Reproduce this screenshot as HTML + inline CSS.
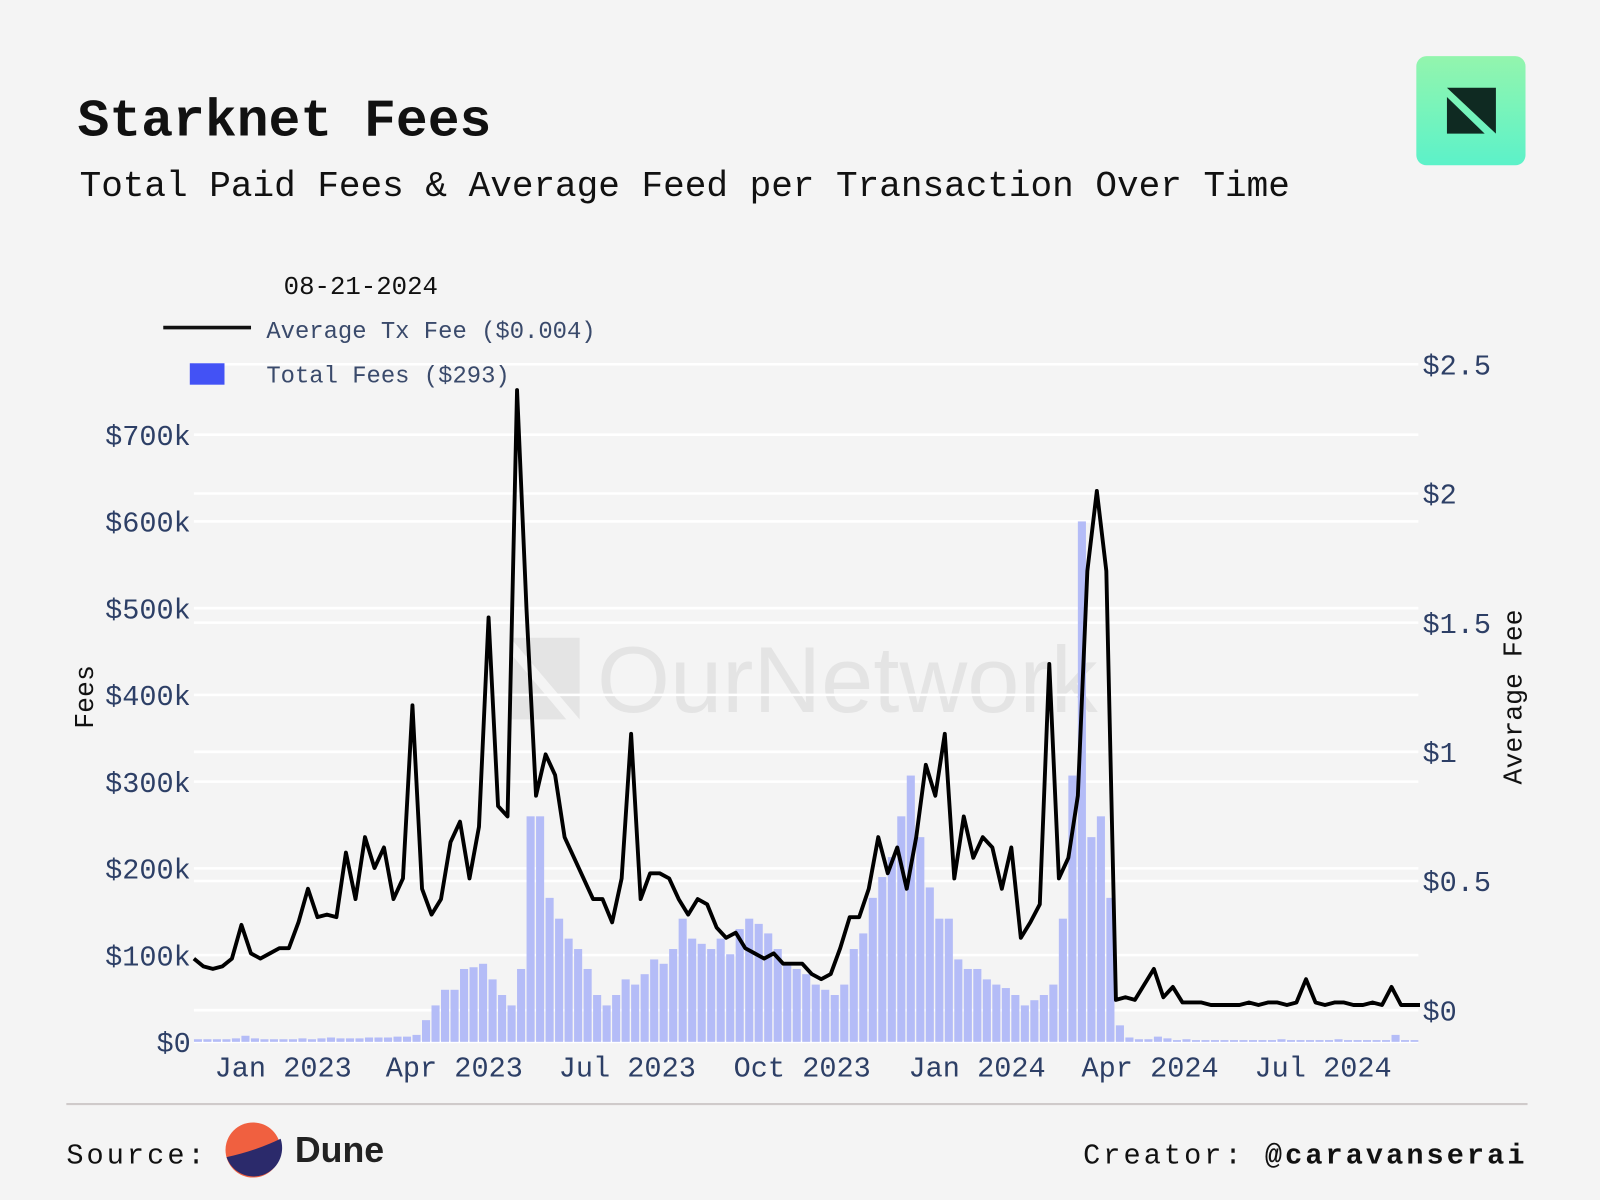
<!DOCTYPE html>
<html><head><meta charset="utf-8"><style>
html,body{margin:0;padding:0;background:#f4f4f4;}
svg{display:block;}
text{font-family:"Liberation Mono","DejaVu Sans Mono",monospace;}
</style></head><body>
<svg id="chart" width="1600" height="1200" viewBox="0 0 1568 1176" xmlns="http://www.w3.org/2000/svg">
<rect x="0" y="0" width="1568" height="1176" fill="#f4f4f4"/>
<text x="76" y="133" font-size="52" font-weight="bold" fill="#111">Starknet Fees</text>
<text x="78" y="192" font-size="35.3" fill="#111">Total Paid Fees &amp; Average Feed per Transaction Over Time</text>
<defs><linearGradient id="lg" x1="0" y1="0" x2="0" y2="1"><stop offset="0" stop-color="#93f5ad"/><stop offset="1" stop-color="#5cf2c9"/></linearGradient>
<clipPath id="pc"><rect x="190" y="300" width="1200" height="730"/></clipPath></defs>
<g>
<rect x="1388" y="55" width="107" height="107" rx="10" fill="url(#lg)"/>
<polygon points="1418,86 1466,86 1466,131 1418,86" fill="#0f2a22"/>
<polygon points="1418,95 1418,131 1455,131" fill="#0f2a22"/>
</g>
<g opacity="0.55">
<polygon points="500,625 568,625 568,705" fill="#d8d8d8"/>
<polygon points="500,640 500,705 555,705" fill="#d8d8d8"/>
<text x="585" y="698" font-size="92" fill="#d8d8d8" style="font-family:'Liberation Sans',sans-serif">OurNetwork</text>
</g>
<g id="grid"></g>
<g id="bars" clip-path="url(#pc)"></g>
<g id="line"></g>
<g id="axes"></g>
<text x="278" y="288" font-size="25.2" fill="#111">08-21-2024</text>
<g>
<line x1="160" y1="321" x2="246" y2="321" stroke="#111" stroke-width="3.5"/>
<text x="261" y="331" font-size="23.4" fill="#3a4a6b">Average Tx Fee ($0.004)</text>
</g>
<g>
<rect x="186" y="356" width="34" height="21" fill="#4352f5"/>
<text x="261" y="375" font-size="23.4" fill="#3a4a6b">Total Fees ($293)</text>
</g>
<text transform="translate(91,683) rotate(-90)" text-anchor="middle" font-size="26" fill="#111">Fees</text>
<text transform="translate(1491,683) rotate(-90)" text-anchor="middle" font-size="26" fill="#111">Average Fee</text>
<line x1="65" y1="1082" x2="1497" y2="1082" stroke="#cfcaca" stroke-width="2"/>
<text x="65" y="1140" font-size="28" letter-spacing="3" fill="#111">Source:</text>
<g>
<circle cx="248" cy="1127" r="27" fill="#f06040"/>
<path d="M222,1134 Q250,1128 275,1116 A27,27 0 0 1 222,1134 Z" fill="#2b2a6b"/>
<text x="289" y="1139" font-size="35" font-weight="bold" fill="#222" style="font-family:'Liberation Sans',sans-serif">Dune</text>
</g>
<text x="1497" y="1140" font-size="28" letter-spacing="3" text-anchor="end" fill="#111">Creator: <tspan font-weight="bold">@caravanserai</tspan></text>
</svg>
<script>
const startDate = "2022-11-15";
const stepDays = 5;
const avgFee = [0.20,0.17,0.16,0.17,0.20,0.33,0.22,0.20,0.22,0.24,0.24,0.34,0.47,0.36,0.37,0.36,0.61,0.43,0.67,0.55,0.63,0.43,0.51,1.18,0.47,0.37,0.43,0.65,0.73,0.51,0.71,1.52,0.79,0.75,2.4,1.55,0.83,0.99,0.91,0.67,0.59,0.51,0.43,0.43,0.34,0.51,1.07,0.43,0.53,0.53,0.51,0.43,0.37,0.43,0.41,0.32,0.28,0.30,0.24,0.22,0.20,0.22,0.18,0.18,0.18,0.14,0.12,0.14,0.24,0.36,0.36,0.47,0.67,0.53,0.63,0.47,0.67,0.95,0.83,1.07,0.51,0.75,0.59,0.67,0.63,0.47,0.63,0.28,0.34,0.41,1.34,0.51,0.59,0.83,1.70,2.01,1.70,0.04,0.05,0.04,0.10,0.16,0.05,0.09,0.03,0.03,0.03,0.02,0.02,0.02,0.02,0.03,0.02,0.03,0.03,0.02,0.03,0.12,0.03,0.02,0.03,0.03,0.02,0.02,0.03,0.02,0.09,0.02,0.02,0.02];
const totalFeesK = [3,3,3,3,4,7,4,3,3,3,3,4,3,4,5,4,4,4,5,5,5,6,6,8,25,42,60,60,84,86,90,72,54,42,84,260,260,166,142,119,107,84,54,42,54,72,66,78,95,90,107,142,119,113,107,119,101,130,142,136,125,107,90,84,78,66,60,54,66,107,125,166,190,213,260,307,236,178,142,142,95,84,84,72,66,62,54,42,48,54,66,142,307,600,236,260,166,19,5,3,3,6,4,2,3,2,2,2,2,2,2,2,2,2,3,2,2,2,2,2,3,2,2,2,2,2,8,2,2,2];
const leftTicks = [0,100,200,300,400,500,600,700];
const leftTickLabels = ["$0","$100k","$200k","$300k","$400k","$500k","$600k","$700k"];
const rightTicks = [0,0.5,1,1.5,2,2.5];
const rightTickLabels = ["$0","$0.5","$1","$1.5","$2","$2.5"];
const xTickDates = ["2023-01-01","2023-04-01","2023-07-01","2023-10-01","2024-01-01","2024-04-01","2024-07-01"];
const xTickLabels = ["Jan 2023","Apr 2023","Jul 2023","Oct 2023","Jan 2024","Apr 2024","Jul 2024"];

const NS = "http://www.w3.org/2000/svg";
const DAY = 86400000;
const t0 = Date.parse(startDate);
const xL = 190, xR = 1390;
function xScale(dateMs){ return xL + (dateMs - t0)/DAY * 1.863; }
function yLeft(k){ return 1021 - k*0.85; }
function yRight(v){ return 990 - v*253.2; }
function mk(tag, attrs, parent){ const e=document.createElementNS(NS,tag); for(const k in attrs) e.setAttribute(k,attrs[k]); parent.appendChild(e); return e; }

const grid=document.getElementById('grid'), axes=document.getElementById('axes');
leftTicks.forEach((v,i)=>{
  const y=yLeft(v);
  const g=mk('line',{x1:xL,x2:xR,y1:y,y2:y,stroke:'#ffffff','stroke-width':2.5},grid);
  
  
  const t=mk('text',{x:187,y:y+10,'text-anchor':'end','font-size':28,fill:'#2d3f66'},axes);
  t.textContent=leftTickLabels[i];
  
  
});
rightTicks.forEach((v,i)=>{
  const y=yRight(v);
  const g=mk('line',{x1:xL,x2:xR,y1:y,y2:y,stroke:'#ffffff','stroke-width':2.5},grid);
  
  
  const t=mk('text',{x:1394,y:y+10,'font-size':28,fill:'#2d3f66'},axes);
  t.textContent=rightTickLabels[i];
  
  
});
xTickDates.forEach((d,i)=>{
  const t=mk('text',{x:xScale(Date.parse(d)),y:1055,'text-anchor':'middle','font-size':28,fill:'#2d3f66'},axes);
  t.textContent=xTickLabels[i];
  
  
});
const bars=document.getElementById('bars');
const bw = stepDays*1.863;
totalFeesK.forEach((v,i)=>{
  const x=xScale(t0+i*stepDays*DAY);
  const y=yLeft(v);
  const r=mk('rect',{x:x,y:y,width:bw*0.85,height:Math.max(0,yLeft(0)-y),fill:'#b4bcf7'},bars);
  
  
});
const pts=avgFee.map((v,i)=>xScale(t0+i*stepDays*DAY).toFixed(1)+','+yRight(v).toFixed(1)).join(' ');
const pl=mk('polyline',{points:pts,fill:'none',stroke:'#000','stroke-width':3.8,'stroke-linejoin':'round'},document.getElementById('line'));


</script>
</body></html>
